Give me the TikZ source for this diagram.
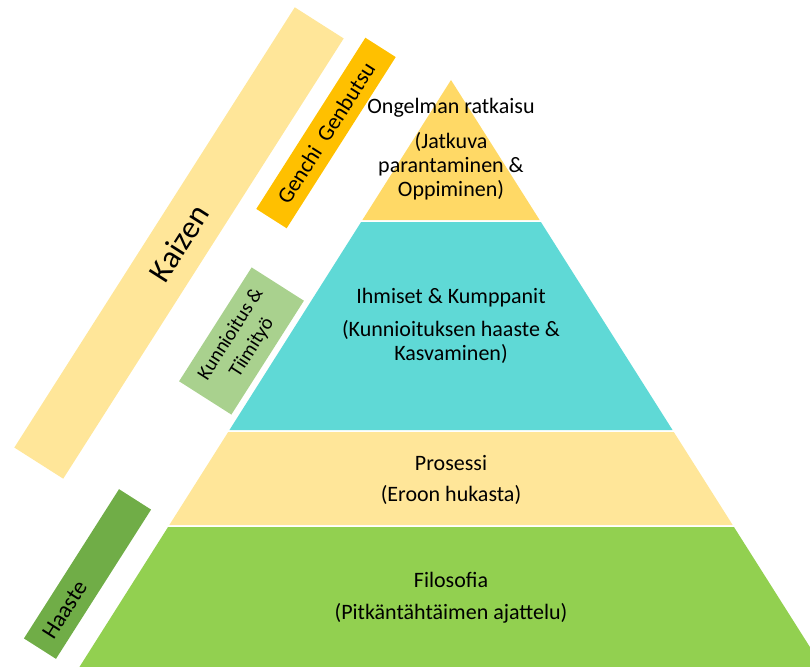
\documentclass[tikz,border=0pt]{standalone}
\usepackage{fontspec}
\setmainfont{Carlito}
\usetikzlibrary{calc}
\definecolor{pyrtop}{HTML}{FFD966}
\definecolor{pyrteal}{HTML}{5FD9D6}
\definecolor{pyrsand}{HTML}{FFE699}
\definecolor{pyrgreen}{HTML}{92D050}
\definecolor{barkaizen}{HTML}{FFE699}
\definecolor{bargenchi}{HTML}{FFC000}
\definecolor{barkunn}{HTML}{A9D18E}
\definecolor{barhaaste}{HTML}{70AD47}

\begin{document}
\begin{tikzpicture}[x=1pt,y=-1pt,
  bar/.style={rotate=57.5,inner sep=0pt,align=center},
  lvl/.style={align=center,font=\fontsize{22}{24}\selectfont}]
\useasboundingbox (0,0) rectangle (810,666);
\clip (0,0) rectangle (810,666);
% pyramid layers
\foreach \ya/\yb/\col in {80/220/pyrtop,222/430/pyrteal,432/525/pyrsand,527/700/pyrgreen}
  \fill[\col] ({451-0.633*(\ya-80)},\ya) -- ({451+0.633*(\ya-80)},\ya)
    -- ({451+0.633*(\yb-80)},\yb) -- ({451-0.633*(\yb-80)},\yb) -- cycle;
\node[lvl](top1) at (451,108){Ongelman ratkaisu};
\node[lvl](top2) at (451,166){(Jatkuva\\parantaminen \&\\Oppiminen)};
\node[lvl](mid1) at (451,298){Ihmiset \& Kumppanit};
\node[lvl](mid2) at (451,342){(Kunnioituksen haaste \&\\Kasvaminen)};
\node[lvl](pro1) at (451,463){Prosessi};
\node[lvl](pro2) at (451,495){(Eroon hukasta)};
\node[lvl](fil1) at (451,580){Filosofia};
\node[lvl](fil2) at (451,613){(Pitkäntähtäimen ajattelu)};
% side bars
\node[bar,fill=barkaizen,minimum width=522pt,minimum height=58pt,font=\fontsize{32}{34}\selectfont](kaizen) at (179,243){Kaizen};
\node[bar,fill=bargenchi,minimum width=203pt,minimum height=36pt,font=\fontsize{22.5}{24}\selectfont](genchi) at (326,133){Genchi\ \ Genbutsu};
\node[bar,fill=barkunn,minimum width=135pt,minimum height=62pt,font=\fontsize{20}{25}\selectfont](kunn) at (241.5,341){Kunnioitus \&\\Tiimityö};
\node[bar,fill=barhaaste,minimum width=177pt,minimum height=38pt](haaste) at (87.5,574){};
\node[rotate=57.5,anchor=west,inner sep=14pt,font=\fontsize{23}{25}\selectfont](haastetxt) at (haaste.west){Haaste};
\end{tikzpicture}
\end{document}
